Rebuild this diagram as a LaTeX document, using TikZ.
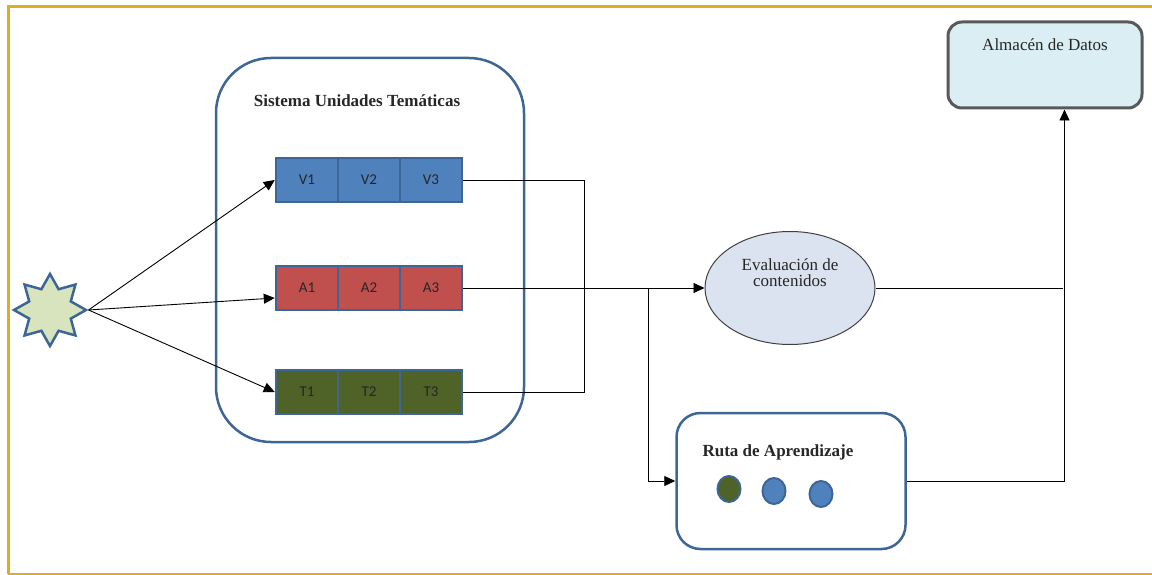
\documentclass[tikz,border=0pt]{standalone}
\usepackage{fontspec}
\setmainfont{Liberation Serif}
\newfontfamily\cellfont{Carlito}
\usetikzlibrary{shapes.geometric,arrows.meta,calc}
\definecolor{gold}{HTML}{E2AC1F}
\definecolor{blueb}{HTML}{3D6596}
\definecolor{vfill}{HTML}{4F81BD}
\definecolor{afill}{HTML}{C0504D}
\definecolor{tfill}{HTML}{4F6228}
\definecolor{starfill}{HTML}{D7E4BD}
\definecolor{efill}{HTML}{DCE3F0}
\definecolor{dfill}{HTML}{DAEEF3}
\definecolor{dgray}{HTML}{595959}
\begin{document}
\begin{tikzpicture}[x=1pt,y=-1pt,
  cell/.style={rectangle,draw=blueb,line width=2.5pt,minimum width=62,minimum height=44,inner sep=0pt,font=\cellfont\fontsize{15}{17}\selectfont,text=black!85},
  title/.style={font=\fontsize{17}{19}\selectfont\bfseries,text=black!85},
  plain/.style={font=\fontsize{17}{19}\selectfont,text=black!85,align=center},
  arr/.style={-{Triangle[length=11pt,width=10pt]},line width=0.9pt},
  conn/.style={line width=0.9pt},
  dot/.style={ellipse,draw=blueb,line width=2pt,minimum width=23,minimum height=26,inner sep=0pt}]
\useasboundingbox (0,0) rectangle (1152,575);
% frame
\draw[gold,line width=3pt] (8,574) -- (8,7) -- (1152,7);
\draw[gold,line width=2pt] (8,574) -- (1152,574);
% container
\node[rectangle,rounded corners=55,draw=blueb,line width=2.5pt,minimum width=308,minimum height=384] (S) at (370,250) {};
\node[title] (St) at (357,101) {Sistema Unidades Temáticas};
% cells
\node[cell,fill=vfill] (V1) at (307,180) {V1};
\node[cell,fill=vfill] (V2) at (369,180) {V2};
\node[cell,fill=vfill] (V3) at (431,180) {V3};
\node[cell,fill=afill] (A1) at (307,288) {A1};
\node[cell,fill=afill] (A2) at (369,288) {A2};
\node[cell,fill=afill] (A3) at (431,288) {A3};
\node[cell,fill=tfill] (T1) at (307,392) {T1};
\node[cell,fill=tfill] (T2) at (369,392) {T2};
\node[cell,fill=tfill] (T3) at (431,392) {T3};
% star
\node[star,star points=8,star point ratio=1.6,minimum size=72,fill=starfill,draw=blueb,line width=2.5pt,inner sep=0pt] (st) at (50,310) {};
\draw[arr] (st.east) -- (V1.west);
\draw[arr] (st.east) -- ($(A1.west)+(0,10)$);
\draw[arr] (st.east) -- (T1.west);
% junctions
\coordinate (j) at (584,288);
\coordinate (jb) at (648,288);
\coordinate (k) at (1063,288);
\draw[conn] (V3.east) -| (j);
\draw[conn] (T3.east) -| (j);
% ellipse
\node[ellipse,fill=efill,draw=black!75,line width=1pt,minimum width=170,minimum height=113] (E) at (790,288) {};
\node[plain] (Et) at (790,273) {Evaluación de\\[-3pt]contenidos};
\draw[arr] (A3.east) -- (E.west);
% Ruta
\node[rectangle,rounded corners=24,draw=blueb,line width=2.5pt,minimum width=229,minimum height=136] (R) at (791,481) {};
\node[title] (Rt) at (778,452) {Ruta de Aprendizaje};
\node[dot,fill=tfill] (c1) at (729,489) {};
\node[dot,fill=vfill] (c2) at (774,491) {};
\node[dot,fill=vfill] (c3) at (821,494) {};
\draw[arr] (jb) |- (R.west);
% Almacen
\node[rectangle,rounded corners=14,fill=dfill,draw=dgray,line width=3pt,minimum width=194,minimum height=86] (D) at (1045,65) {};
\node[plain] (Dt) at (1045,45) {Almacén de Datos};
\draw[conn] (E.east) -- (k);
\draw[arr] (R.east) -| ($(D.south east)+(-79,0)$);
\end{tikzpicture}
\end{document}
